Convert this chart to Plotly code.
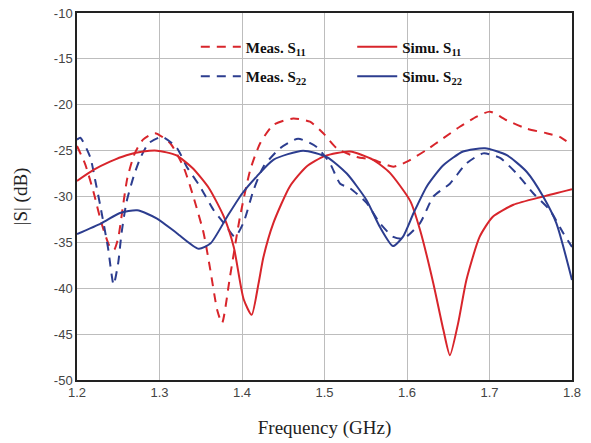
import plotly.graph_objects as go

# ---- data ----
sim_s11_x = [1.2,1.22,1.24,1.26,1.28,1.297,1.32,1.34,1.36,1.378,1.39,1.402,1.4117,1.42,1.426,1.438,1.458,1.478,1.5,1.531,1.559,1.579,1.604,1.616,1.632,1.644,1.652,1.662,1.672,1.688,1.704,1.729,1.765,1.8]
sim_s11_y = [-28.3,-27.1,-26.2,-25.5,-25.1,-25.0,-25.5,-26.9,-29.1,-32.2,-35.5,-41.2,-42.9,-39.5,-36.6,-32.9,-28.9,-26.75,-25.6,-25.1,-26.0,-27.4,-30.5,-33.7,-39.5,-44.5,-47.3,-43.8,-39.1,-34.4,-32.2,-30.9,-30.0,-29.2]

sim_s22_x = [1.2,1.23,1.252,1.273,1.297,1.321,1.3475,1.362,1.382,1.4,1.418,1.438,1.474,1.503,1.527,1.551,1.567,1.583,1.595,1.608,1.624,1.644,1.668,1.6945,1.721,1.745,1.765,1.781,1.8]
sim_s22_y = [-34.1,-32.9,-31.8,-31.5,-32.4,-34.0,-35.7,-35.1,-32.2,-29.7,-27.8,-26.0,-25.0,-25.7,-27.5,-30.4,-33.3,-35.4,-34.4,-31.8,-28.9,-26.6,-25.1,-24.75,-25.5,-27.3,-30.0,-32.9,-39.1]

meas_s11_x = [1.2,1.21,1.22,1.23,1.24,1.245,1.25,1.255,1.261,1.27,1.28,1.2945,1.313,1.329,1.341,1.3535,1.3616,1.37,1.3758,1.3855,1.3976,1.41,1.422,1.438,1.462,1.4824,1.4985,1.5148,1.539,1.559,1.5834,1.6,1.624,1.644,1.664,1.6845,1.7006,1.721,1.745,1.769,1.785,1.8]
meas_s11_y = [-24.5,-26.5,-29.5,-33.0,-35.5,-35.8,-34.5,-31.5,-28.0,-25.3,-23.8,-23.1,-24.2,-26.75,-30.0,-34.0,-38.0,-42.4,-43.8,-38.7,-32.2,-27.1,-24.2,-22.2,-21.5,-21.85,-23.1,-24.75,-25.7,-26.0,-26.75,-26.2,-24.9,-23.65,-22.4,-21.3,-20.75,-21.7,-22.6,-23.1,-23.5,-24.4]

meas_s22_x = [1.2,1.204,1.216,1.222,1.228,1.2376,1.2444,1.25,1.254,1.26,1.2687,1.2768,1.2869,1.303,1.321,1.333,1.349,1.3657,1.378,1.3915,1.4016,1.414,1.426,1.446,1.468,1.4905,1.5067,1.519,1.531,1.551,1.567,1.5834,1.5955,1.6158,1.632,1.652,1.672,1.6925,1.7127,1.733,1.753,1.7733,1.7895,1.8]
meas_s22_y = [-23.8,-23.6,-25.7,-28.2,-30.9,-35.6,-39.6,-37.2,-34.0,-30.6,-27.8,-25.8,-24.2,-23.5,-24.7,-26.75,-28.9,-31.5,-32.9,-34.4,-32.9,-29.3,-26.75,-24.75,-23.7,-24.6,-26.4,-28.6,-29.1,-30.7,-32.9,-34.4,-34.6,-32.9,-30.0,-28.6,-26.4,-25.3,-25.8,-27.5,-29.65,-31.5,-34.0,-35.5]

x_ticks = [1.2, 1.3, 1.4, 1.5, 1.6, 1.7, 1.8]
y_ticks = [-50, -45, -40, -35, -30, -25, -20, -15, -10]

RED = "#d8252b"
BLUE = "#2c3d8f"

fig = go.Figure()
line_common = dict(shape="spline", smoothing=0.6, width=2)
DASH = "9px,7px"

fig.add_trace(go.Scatter(x=meas_s11_x, y=meas_s11_y, mode="lines", name="<b>Meas. S<sub>11</sub></b>",
                         legendgroup="a", line=dict(color=RED, dash=DASH, **line_common), legend="legend"))
fig.add_trace(go.Scatter(x=meas_s22_x, y=meas_s22_y, mode="lines", name="<b>Meas. S<sub>22</sub></b>",
                         legendgroup="b", line=dict(color=BLUE, dash=DASH, **line_common), legend="legend"))
fig.add_trace(go.Scatter(x=sim_s11_x, y=sim_s11_y, mode="lines", name="<b>Simu. S<sub>11</sub></b>",
                         legendgroup="c", line=dict(color=RED, **line_common), legend="legend2"))
fig.add_trace(go.Scatter(x=sim_s22_x, y=sim_s22_y, mode="lines", name="<b>Simu. S<sub>22</sub></b>",
                         legendgroup="d", line=dict(color=BLUE, **line_common), legend="legend2"))

leg_font = dict(family="Liberation Serif, Times New Roman, serif", size=15, color="#111")
title_font = dict(family="Liberation Serif, Times New Roman, serif", size=19, color="#222")
fig.update_layout(
    width=591, height=443,
    margin=dict(l=77, r=19, t=13, b=63),
    paper_bgcolor="white", plot_bgcolor="white",
    font=dict(family="Liberation Sans, Arial, sans-serif", size=13, color="#444"),
    legend=dict(x=0.24, y=0.952, xanchor="left", yanchor="top", font=leg_font,
                bgcolor="rgba(255,255,255,0)", tracegroupgap=7, itemwidth=40),
    legend2=dict(x=0.556, y=0.952, xanchor="left", yanchor="top", font=leg_font,
                 bgcolor="rgba(255,255,255,0)", tracegroupgap=7, itemwidth=40),
    xaxis=dict(range=[1.2, 1.8], tickvals=x_ticks, ticktext=[str(v) for v in x_ticks],
               showgrid=True, gridcolor="#bdbdbd", gridwidth=1, zeroline=False, automargin=False,
               showline=True, linecolor="#222", linewidth=1.5, mirror=True, ticks="",
               title=dict(text="Frequency (GHz)", font=title_font, standoff=21)),
    yaxis=dict(range=[-50, -10], tickvals=y_ticks, ticktext=[str(v) for v in y_ticks],
               showgrid=True, gridcolor="#bdbdbd", gridwidth=1, zeroline=False, automargin=False,
               showline=True, linecolor="#222", linewidth=1.5, mirror=True, ticks="",
               title=dict(text="|S| (dB)", font=title_font, standoff=21)),
)

fig.write_html("out.html", config={"displayModeBar": False},
               post_script="document.body.style.margin='0';document.body.style.overflow='hidden';")
